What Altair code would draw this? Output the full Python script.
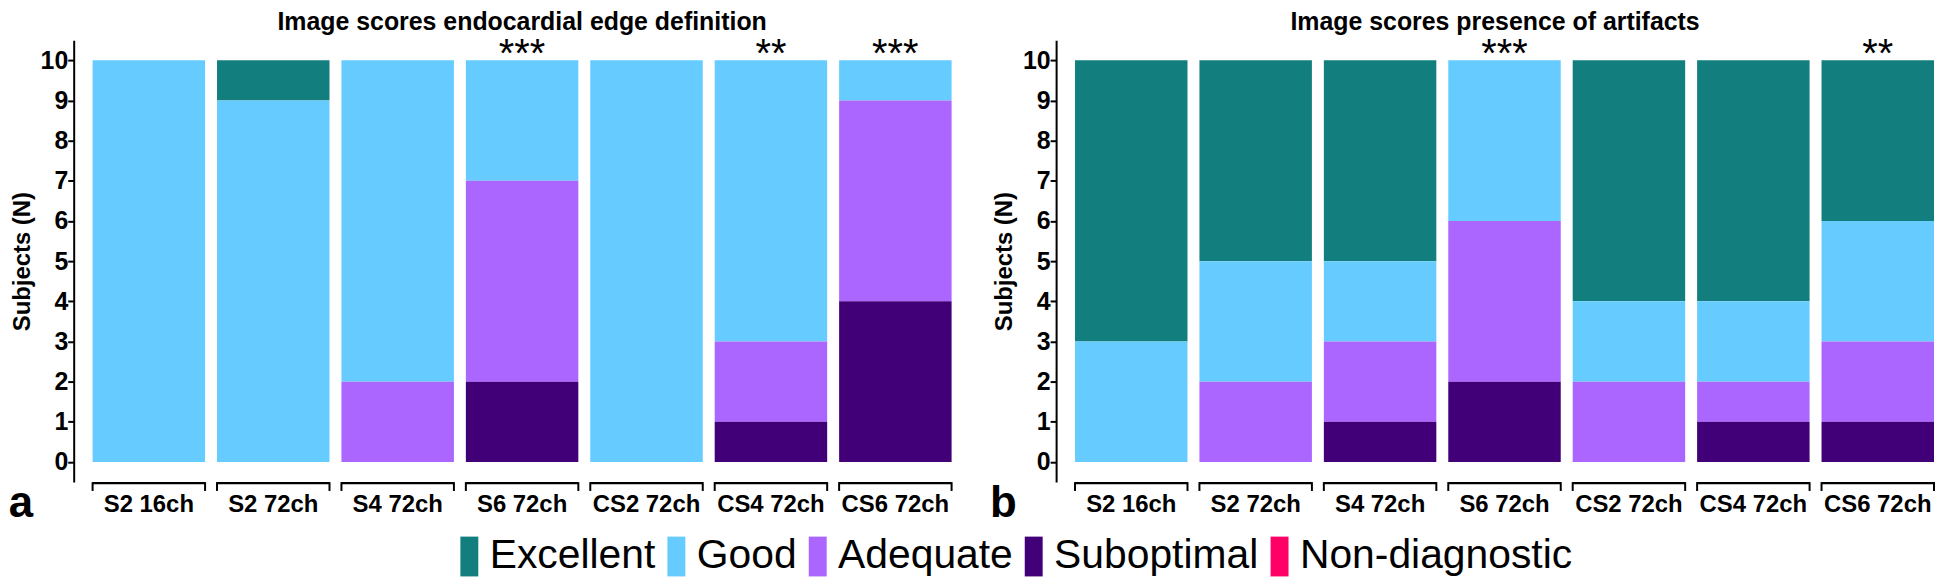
import altair as alt
import pandas as pd

FONT = "Liberation Sans"

categories = ["S2 16ch", "S2 72ch", "S4 72ch", "S6 72ch", "CS2 72ch", "CS4 72ch", "CS6 72ch"]
levels = ["Excellent", "Good", "Adequate", "Suboptimal", "Non-diagnostic"]
colors = ["#127F7E", "#66CCFF", "#AA66FF", "#420078", "#FF0066"]
stack_rank = {"Suboptimal": 0, "Adequate": 1, "Good": 2, "Excellent": 3, "Non-diagnostic": 4}

# Panel a: endocardial edge definition (counts per category)
edge_excellent = [0, 1, 0, 0, 0, 0, 0]
edge_good = [10, 9, 8, 3, 10, 7, 1]
edge_adequate = [0, 0, 2, 5, 0, 2, 5]
edge_suboptimal = [0, 0, 0, 2, 0, 1, 4]
edge_nondiag = [0, 0, 0, 0, 0, 0, 0]
edge_stars = ["", "", "", "***", "", "**", "***"]

# Panel b: presence of artifacts
art_excellent = [7, 5, 5, 0, 6, 6, 4]
art_good = [3, 3, 2, 4, 2, 2, 3]
art_adequate = [0, 2, 2, 4, 2, 1, 2]
art_suboptimal = [0, 0, 1, 2, 0, 1, 1]
art_nondiag = [0, 0, 0, 0, 0, 0, 0]
art_stars = ["", "", "", "***", "", "", "**"]


def long_df(series):
    rows = []
    for level, vals in series.items():
        for c, v in zip(categories, vals):
            if v > 0:
                rows.append({"cat": c, "level": level, "n": v, "rank": stack_rank[level]})
    return pd.DataFrame(rows)


edge_df = long_df({"Excellent": edge_excellent, "Good": edge_good, "Adequate": edge_adequate,
                   "Suboptimal": edge_suboptimal, "Non-diagnostic": edge_nondiag})
art_df = long_df({"Excellent": art_excellent, "Good": art_good, "Adequate": art_adequate,
                  "Suboptimal": art_suboptimal, "Non-diagnostic": art_nondiag})

cat_df = pd.DataFrame({"cat": categories})

legend = alt.Legend(
    orient="none", legendX=377, legendY=498, direction="horizontal", title=None,
    labelFont=FONT, labelFontSize=41, labelColor="black", labelFontWeight="normal",
    symbolType="M-0.45,-1L0.45,-1L0.45,1L-0.45,1Z", symbolSize=1600,
    symbolStrokeWidth=0, symbolOpacity=1, labelOffset=0, columnPadding=0,
    labelLimit=0,
)


def panel(df, stars, title, letter, width, pad_outer, align):
    xscale = alt.Scale(domain=categories, paddingInner=0.096, paddingOuter=pad_outer, align=align)
    x = alt.X("cat:N", sort=categories, scale=xscale,
              axis=alt.Axis(title=None, labelAngle=0, labelFont=FONT, labelFontWeight="bold",
                            labelFontSize=24, labelColor="black", domain=False, ticks=False,
                            labelPadding=11))
    yscale = alt.Scale(domain=[-0.5, 10.5], nice=False, zero=False)
    y = alt.Y("n:Q", stack="zero", scale=yscale,
              axis=alt.Axis(values=list(range(11)), title="Subjects (N)", titleFont=FONT,
                            titleFontSize=24, titleFontWeight="bold", titleColor="black",
                            titlePadding=6, labelFont=FONT, labelFontSize=25,
                            labelFontWeight="bold", labelColor="black", labelPadding=0,
                            tickSize=6, tickWidth=2, tickColor="black", domainColor="black",
                            domainWidth=2, grid=False))
    bars = alt.Chart(df).mark_bar().encode(
        x=x, y=y,
        color=alt.Color("level:N", scale=alt.Scale(domain=levels, range=colors), legend=legend),
        order=alt.Order("rank:Q"),
    )
    base = alt.Chart(cat_df)
    hline = base.mark_bar(color="black").encode(
        x=alt.X("cat:N", sort=categories), y=alt.datum(-0.5), y2=alt.datum(-0.55))
    lt = base.mark_rule(color="black", strokeWidth=2).encode(
        x=alt.X("cat:N", sort=categories, bandPosition=0), y=alt.datum(-0.5), y2=alt.datum(-0.72))
    rt = base.mark_rule(color="black", strokeWidth=2).encode(
        x=alt.X("cat:N", sort=categories, bandPosition=1), y=alt.datum(-0.5), y2=alt.datum(-0.72))
    star_df = pd.DataFrame({"cat": categories, "star": stars})
    star_df = star_df[star_df["star"] != ""]
    st = alt.Chart(star_df).mark_text(font=FONT, fontSize=40, color="black",
                                      baseline="alphabetic").encode(
        x=alt.X("cat:N", sort=categories), y=alt.datum(9.84), text="star:N")
    let = alt.Chart(pd.DataFrame({"t": [letter]})).mark_text(
        font=FONT, fontSize=44, fontWeight="bold", color="black", baseline="alphabetic",
        align="center").encode(x=alt.value(-53), y=alt.value(479), text="t:N")
    return alt.layer(bars, hline, lt, rt, st, let).properties(
        width=width, height=444,
        title=alt.TitleParams(title, font=FONT, fontSize=25, fontWeight="bold", color="black",
                              anchor="middle", offset=0),
    )


pa = panel(edge_df, edge_stars, "Image scores endocardial edge definition", "a", 901, 0.152, 0.5)
pb = panel(art_df, art_stars, "Image scores presence of artifacts", "b", 882, 0.076, 1)

chart = alt.hconcat(pa, pb, spacing=86, bounds="flush").resolve_scale(color="shared").properties(
    padding={"left": 0, "top": 0, "right": 0, "bottom": 0}
).configure_view(stroke=None)

chart.save("out.html", embed_options={"renderer": "svg", "actions": False})
